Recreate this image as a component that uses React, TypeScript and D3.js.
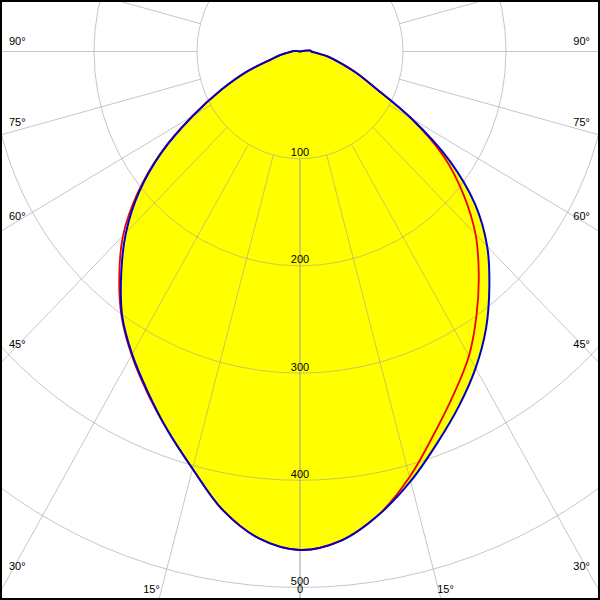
import React, { useEffect, useRef } from "react";
import * as d3 from "d3";

// gamma angles (deg from nadir) and intensities (cd) per half-plane
const gammaDeg = [
  0, 5, 10, 15, 20, 25, 30, 35, 40, 45, 50, 55, 60, 65, 70, 75, 80, 85, 90,
  95, 100, 105, 110, 115, 120, 125, 130, 135, 140, 145, 150, 155, 160, 165,
  170, 175, 180,
];
const c0Values = [
  465, 458, 439, 415, 389, 365, 341, 315, 286, 257, 222, 177, 125, 81, 58, 40,
  28, 16, 11, 10, 3, 0, 0, 0, 0, 0, 0, 0, 0, 0, 0, 0, 0, 0, 0, 0, 0,
];
const c180Values = [
  465, 456, 434, 403, 376, 350, 326, 301, 270, 239, 204, 164, 120, 84, 55, 30,
  20, 12, 8, 6, 2, 0, 0, 0, 0, 0, 0, 0, 0, 0, 0, 0, 0, 0, 0, 0, 0,
];
const c90Values = [
  465, 458, 439, 411, 380, 353, 328, 299, 270, 241, 207, 170, 124, 81, 58, 40,
  28, 16, 11, 10, 3, 0, 0, 0, 0, 0, 0, 0, 0, 0, 0, 0, 0, 0, 0, 0, 0,
];
const c270Values = [
  465, 456, 434, 403, 376, 351, 327, 302, 273, 243, 206, 165, 121, 84, 55, 30,
  20, 12, 8, 6, 2, 0, 0, 0, 0, 0, 0, 0, 0, 0, 0, 0, 0, 0, 0, 0, 0,
];
const ringValues = [100, 200, 300, 400, 500];
const spokeAngles = [0, 15, 30, 45, 60, 75, 90, 105, 120, 135, 150, 165, 180];
const sideLabels = [90, 75, 60, 45, 30];

const App = () => {
  const svgRef = useRef<SVGSVGElement | null>(null);

  useEffect(() => {
    const svg = d3.select(svgRef.current);
    svg.selectAll("*").remove();

    const width = 600;
    const height = 600;
    const cx = 300;
    const cy = 51.5;
    const font = "'Liberation Sans', Arial, sans-serif";

    // picture is slightly stretched: x and y scales differ
    const xScale = d3.scaleLinear().domain([-500, 500]).range([cx - 515, cx + 515]);
    const yScale = d3.scaleLinear().domain([0, 500]).range([cy, cy + 536]);

    const toXY = (g: number, v: number, side: number): [number, number] => {
      const a = (g * Math.PI) / 180;
      return [xScale(side * v * Math.sin(a)), yScale(v * Math.cos(a))];
    };

    svg.append("rect").attr("width", width).attr("height", height).attr("fill", "white");

    const buildPoints = (right: number[], left: number[]) => {
      const pts: [number, number][] = [];
      gammaDeg.forEach((g, i) => pts.push(toXY(g, right[i], 1)));
      for (let i = gammaDeg.length - 1; i > 0; i--) pts.push(toXY(gammaDeg[i], left[i], -1));
      return pts.filter(
        (p, i) =>
          i === 0 ||
          Math.abs(p[0] - pts[i - 1][0]) > 0.01 ||
          Math.abs(p[1] - pts[i - 1][1]) > 0.01
      );
    };

    const line = d3.line().curve(d3.curveCatmullRomClosed.alpha(0.5));
    const bluePts = buildPoints(c0Values, c180Values);
    const redPts = buildPoints(c90Values, c270Values);

    // fill
    svg.append("path").attr("d", line(bluePts)).attr("fill", "#ffff00");

    // grid
    const grid = svg.append("g").attr("stroke", "#a0a0a0").attr("stroke-opacity", 0.6).attr("fill", "none");
    ringValues.forEach((v) => {
      grid
        .append("ellipse")
        .attr("cx", cx)
        .attr("cy", cy)
        .attr("rx", xScale(v) - cx)
        .attr("ry", yScale(v) - cy);
    });
    [1, -1].forEach((side) => {
      spokeAngles.forEach((g) => {
        const [x1, y1] = toXY(g, 100, side);
        const [x2, y2] = toXY(g, 1200, side);
        grid.append("line").attr("x1", x1).attr("y1", y1).attr("x2", x2).attr("y2", y2);
      });
    });

    // curves
    svg
      .append("path")
      .attr("d", line(redPts))
      .attr("fill", "none")
      .attr("stroke", "#ee0000")
      .attr("stroke-width", 1.8);
    svg
      .append("path")
      .attr("d", line(bluePts))
      .attr("fill", "none")
      .attr("stroke", "#0000c8")
      .attr("stroke-width", 2);

    // ring labels
    ringValues.forEach((v) => {
      svg
        .append("text")
        .attr("x", cx)
        .attr("y", yScale(v) - 2.5)
        .attr("text-anchor", "middle")
        .attr("font-family", font)
        .attr("font-size", 11)
        .attr("fill", "black")
        .text(v);
    });

    // angle labels on both sides
    const ratio = (yScale(1) - cy) / (xScale(1) - cx);
    sideLabels.forEach((g) => {
      const cot = g === 90 ? 0 : 1 / Math.tan((g * Math.PI) / 180);
      const y = cy + 291 * cot * ratio - 6.5;
      svg
        .append("text")
        .attr("x", 9)
        .attr("y", y)
        .attr("font-family", font)
        .attr("font-size", 11)
        .text(`${g}°`);
      svg
        .append("text")
        .attr("x", 590)
        .attr("y", y)
        .attr("text-anchor", "end")
        .attr("font-family", font)
        .attr("font-size", 11)
        .text(`${g}°`);
    });
    const dx15 = ((600 - cy) * Math.tan((15 * Math.PI) / 180)) / ratio;
    svg
      .append("text")
      .attr("x", cx - dx15 + 1)
      .attr("y", 593)
      .attr("text-anchor", "end")
      .attr("font-family", font)
      .attr("font-size", 11)
      .text("15°");
    svg
      .append("text")
      .attr("x", cx + dx15 - 4)
      .attr("y", 593)
      .attr("font-family", font)
      .attr("font-size", 11)
      .text("15°");
    svg
      .append("text")
      .attr("x", cx)
      .attr("y", 593)
      .attr("text-anchor", "middle")
      .attr("font-family", font)
      .attr("font-size", 11)
      .text("0");

    // frame
    svg
      .append("rect")
      .attr("x", 0)
      .attr("y", 0)
      .attr("width", width)
      .attr("height", height)
      .attr("fill", "none")
      .attr("stroke", "black")
      .attr("stroke-width", 4);
  }, []);

  return (
    <svg
      ref={svgRef}
      width={600}
      height={600}
      style={{ position: "absolute", left: 0, top: 0 }}
    ></svg>
  );
};

export default App;
